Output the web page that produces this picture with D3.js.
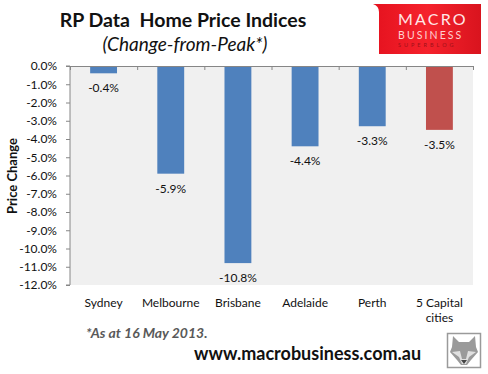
<!DOCTYPE html>
<html>
<head>
<meta charset="utf-8">
<script src="https://cdn.jsdelivr.net/npm/d3@7"></script>
<style>
  html, body { margin: 0; padding: 0; background: #fff; }
  text { font-family: Lato, "Open Sans", sans-serif; }
</style>
</head>
<body>
<div id="chart"></div>
<script>
const categories = ['Sydney', 'Melbourne', 'Brisbane', 'Adelaide', 'Perth', '5 Capital cities'];
const values = [-0.4, -5.9, -10.8, -4.4, -3.3, -3.5];
const barColors = ['#4f81bd', '#4f81bd', '#4f81bd', '#4f81bd', '#4f81bd', '#c0504d'];
const tickValues = [0, -1, -2, -3, -4, -5, -6, -7, -8, -9, -10, -11, -12];

const width = 488, height = 374;
const margin = [66, 89, 70, 15]; // top, bottom, left, right

const svg = d3.select('#chart').append('svg')
    .attr('width', width)
    .attr('height', height)
    .style('display', 'block');

const scaleX = d3.scaleBand(categories, [margin[2], width - margin[3]]).paddingInner(0.6).paddingOuter(0.3);
const scaleY = d3.scaleLinear([0, -12], [margin[0], height - margin[1]]);
const step = scaleX.step();

// plot background
svg.append('rect')
    .attr('x', margin[2]).attr('y', margin[0])
    .attr('width', width - margin[2] - margin[3])
    .attr('height', height - margin[0] - margin[1])
    .attr('fill', '#f0f0f0');

// bars
svg.selectAll('rect.bar')
    .data(categories)
    .join('rect')
    .classed('bar', true)
    .attr('x', d => scaleX(d))
    .attr('y', scaleY(0))
    .attr('width', scaleX.bandwidth())
    .attr('height', (d, i) => scaleY(values[i]) - scaleY(0))
    .attr('fill', (d, i) => barColors[i]);

// value labels
svg.selectAll('text.value')
    .data(categories)
    .join('text')
    .classed('value', true)
    .attr('x', d => scaleX(d) + scaleX.bandwidth() / 2)
    .attr('y', (d, i) => scaleY(values[i]) + 19)
    .attr('text-anchor', 'middle')
    .attr('font-size', 12)
    .attr('fill', '#111')
    .text((d, i) => values[i].toFixed(1) + '%');

// y axis
const axisY = svg.append('g')
    .attr('transform', `translate(${margin[2]},0)`)
    .call(d3.axisLeft(scaleY).tickValues(tickValues).tickSize(4).tickPadding(9)
        .tickFormat(d => (d === 0 ? '0.0' : d3.format('.1f')(d).replace('−', '-')) + '%'));
axisY.selectAll('path, line').attr('stroke', '#868686');
axisY.select('path').attr('d', `M-4,${scaleY(0)}H0V${scaleY(-12)}H-4`);
axisY.selectAll('text')
    .attr('font-family', 'Lato, sans-serif')
    .attr('font-size', 12)
    .attr('fill', '#111');

// x axis line at zero, ticks between the categories
const groupEdges = d3.range(categories.length + 1);
svg.append('line')
    .attr('x1', margin[2]).attr('x2', width - margin[3])
    .attr('y1', scaleY(0) + 0.5).attr('y2', scaleY(0) + 0.5)
    .attr('stroke', '#868686');
svg.selectAll('line.sep')
    .data(groupEdges)
    .join('line')
    .classed('sep', true)
    .attr('x1', i => margin[2] + i * step + 0.5)
    .attr('x2', i => margin[2] + i * step + 0.5)
    .attr('y1', scaleY(0))
    .attr('y2', scaleY(0) + 4)
    .attr('stroke', '#868686');

// category labels
svg.selectAll('text.cat')
    .data(categories)
    .join('text')
    .classed('cat', true)
    .attr('x', d => scaleX(d) + scaleX.bandwidth() / 2)
    .attr('y', 307)
    .attr('text-anchor', 'middle')
    .attr('font-size', 12)
    .attr('fill', '#111')
    .each(function (d) {
        const t = d3.select(this);
        if (d === '5 Capital cities') {
            t.append('tspan').attr('x', t.attr('x')).text('5 Capital');
            t.append('tspan').attr('x', t.attr('x')).attr('dy', 15).text('cities');
        } else {
            t.text(d);
        }
    });

// titles
svg.append('text')
    .attr('x', 183).attr('y', 27)
    .attr('text-anchor', 'middle')
    .attr('font-size', 19.5).attr('font-weight', 700).attr('fill', '#111')
    .style('white-space', 'pre')
    .text('RP Data  Home Price Indices');
svg.append('text')
    .attr('x', 185).attr('y', 51)
    .attr('text-anchor', 'middle')
    .attr('font-size', 19).attr('font-style', 'italic').attr('fill', '#111')
    .text('(Change-from-Peak*)');

// y axis title
svg.append('text')
    .attr('transform', 'translate(17,176) rotate(-90)')
    .attr('text-anchor', 'middle')
    .attr('font-size', 13).attr('font-weight', 700).attr('fill', '#111')
    .text('Price Change');

// footnotes
svg.append('text')
    .attr('x', 86).attr('y', 338)
    .attr('font-size', 14).attr('font-weight', 700).attr('font-style', 'italic').attr('fill', '#595959')
    .text('*As at 16 May 2013.');
svg.append('text')
    .attr('x', 194).attr('y', 360)
    .attr('font-size', 18).attr('font-weight', 700).attr('fill', '#111')
    .text('www.macrobusiness.com.au');

// logo
const logoGrad = svg.append('defs').append('linearGradient').attr('id', 'logoGrad');
logoGrad.append('stop').attr('offset', '0').attr('stop-color', '#e5121f');
logoGrad.append('stop').attr('offset', '0.5').attr('stop-color', '#f5222c');
logoGrad.append('stop').attr('offset', '1').attr('stop-color', '#d9141e');
svg.append('path')
    .attr('d', 'M373,4H481V54H379V12Q379,6 373,4Z')
    .attr('fill', 'url(#logoGrad)');
svg.append('text').attr('x', 398).attr('y', 25)
    .attr('font-size', 16).attr('fill', '#ffe6e6').attr('letter-spacing', 2.2).text('MACRO');
svg.append('text').attr('x', 398).attr('y', 39)
    .attr('font-size', 10.5).attr('fill', '#ffd0d0').attr('letter-spacing', 2.1).text('BUSINESS');
svg.append('text').attr('x', 398).attr('y', 47)
    .attr('font-size', 5.5).attr('fill', '#a01018').attr('letter-spacing', 3).text('SUPERBLOG');

// wolf badge
const wolf = svg.append('g').attr('transform', 'translate(447,333)');
wolf.append('rect').attr('x', 0.5).attr('y', 0.5).attr('width', 33).attr('height', 34)
    .attr('fill', '#fff').attr('stroke', '#9a9a9a').attr('stroke-width', 1.5);
wolf.append('path')
    .attr('d', 'M6,3L12,9H22L28,3L29,14L31,19L24,27L20,32H14L10,27L3,19L5,14Z')
    .attr('fill', '#9a9a9a');
wolf.append('path')
    .attr('d', 'M5,19L13,18L15,26H19L21,18L29,19L22,24L19,31H15L12,24Z')
    .attr('fill', '#e0e0e0');
wolf.append('path')
    .attr('d', 'M14,27H20L17,31Z')
    .attr('fill', '#444');
</script>
</body>
</html>
